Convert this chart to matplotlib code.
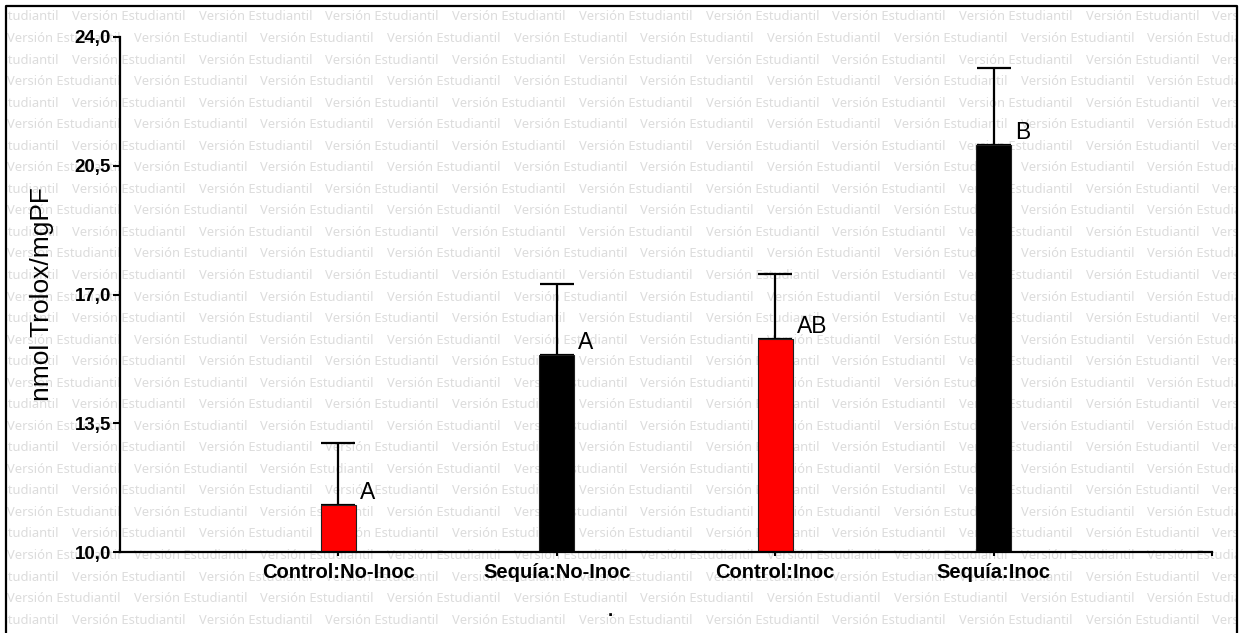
import numpy as np
import matplotlib
matplotlib.use('Agg')
import matplotlib.pyplot as plt
from matplotlib.lines import Line2D
from matplotlib.transforms import Bbox, TransformedBbox
from matplotlib.ticker import FuncFormatter

# datos
grupos = ['Control:No-Inoc', 'Sequía:No-Inoc', 'Control:Inoc', 'Sequía:Inoc']
medias = [11.28, 15.35, 15.79, 21.06]
errores = [1.68, 1.93, 1.77, 2.10]
colores = ['#ff0000', '#000000', '#ff0000', '#000000']
letras = ['A', 'A', 'AB', 'B']
yticks = [10.0, 13.5, 17.0, 20.5, 24.0]

W, H = 1241, 633
fig = plt.figure(figsize=(W / 100, H / 100), dpi=100)

# fondo con marca de agua
bg = fig.add_axes([0, 0, 1, 1], zorder=0)
bg.set_xlim(0, W)
bg.set_ylim(H, 0)
bg.axis('off')
caja = TransformedBbox(Bbox.from_extents(7, 7, 1236, 640), bg.transData)
periodo = 126.7
for k in range(30):
    yy = 17 + k * 21.54
    x0 = 72 if k % 2 == 0 else 7
    xs = np.arange(x0 - periodo, W + periodo, periodo)
    for xx in xs:
        t = bg.text(xx, yy, 'Versión Estudiantil', fontsize=9.3, family='Noto Sans',
                    color='#dcdcdc', ha='left', va='center')
        t.set_clip_box(caja)
        t.set_clip_on(True)

# marco
fig.add_artist(Line2D([6 / W, 6 / W, 1237 / W, 1237 / W], [0, 1 - 6 / H, 1 - 6 / H, 0],
                      transform=fig.transFigure, color='black', lw=1.6))

ax = fig.add_axes([120 / W, (H - 552) / H, 1092 / W, 515 / H], zorder=1)
ax.patch.set_alpha(0)

x = np.arange(1, len(grupos) + 1)
ax.bar(x, medias, width=0.16, color=colores, edgecolor='#202020',
       linewidth=0.8, zorder=2)
ax.errorbar(x, medias, yerr=[np.zeros(len(errores)), errores], fmt='none',
            ecolor='black', elinewidth=1.6, capsize=12.5, capthick=1.6, zorder=1)

for xi, m, l in zip(x, medias, letras):
    ax.annotate(l, (xi + 0.08, m), xytext=(3, 4.5), textcoords='offset points',
                ha='left', va='baseline', fontsize=16.5, family='Liberation Sans')

ax.set_xlim(0, 5)
ax.set_ylim(10, 24)
ax.set_yticks(yticks)
ax.yaxis.set_major_formatter(FuncFormatter(lambda v, p: ('%.1f' % v).replace('.', ',')))
ax.set_xticks(list(x) + [5])
ax.set_xticklabels(grupos + [''])
for lab in ax.get_yticklabels():
    lab.set_fontweight('bold')
    lab.set_fontsize(13.5)
    lab.set_family('Liberation Sans')
for lab in ax.get_xticklabels():
    lab.set_fontweight('bold')
    lab.set_fontsize(14.5)
    lab.set_family('Liberation Sans')
ax.tick_params(axis='y', direction='out', length=5, width=1.5, pad=1.5)
ax.tick_params(axis='x', direction='out', length=3, width=1.5, pad=5)
ax.spines['top'].set_visible(False)
ax.spines['right'].set_visible(False)
ax.spines['left'].set_linewidth(1.6)
ax.spines['bottom'].set_linewidth(1.6)
ax.set_ylabel('nmol Trolox/mgPF', fontsize=19, family='Liberation Sans', labelpad=15)

fig.text(610 / W, 1 - 616 / H, '.', ha='center', va='baseline', fontsize=13.5,
         fontweight='bold', family='Liberation Sans')

fig.savefig('out.png', dpi=100)
